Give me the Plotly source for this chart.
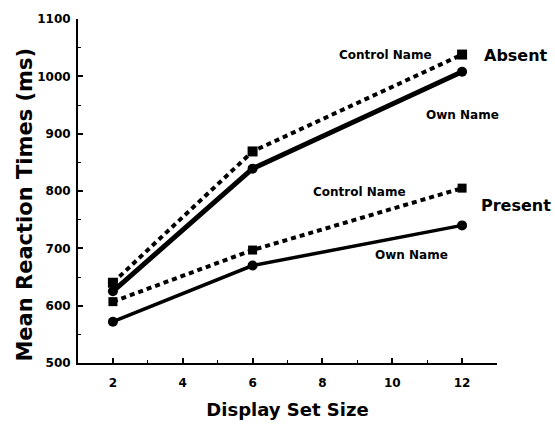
import plotly.graph_objects as go

set_size = [2, 6, 12]
absent_control = [640, 869, 1038]
absent_own = [625, 839, 1008]
present_control = [607, 697, 805]
present_own = [572, 670, 740]

y_ticks = [500, 600, 700, 800, 900, 1000, 1100]
x_ticks = [2, 4, 6, 8, 10, 12]

FONT = "DejaVu Sans"

fig = go.Figure()

def add(y, dashed, symbol, width, msize):
    fig.add_trace(go.Scatter(
        x=set_size, y=y, mode="lines+markers",
        line=dict(color="black", width=width, dash="5px,4px" if dashed else "solid"),
        marker=dict(symbol=symbol, size=msize, color="black"),
        showlegend=False, cliponaxis=False,
    ))

add(absent_control, True, "square", 4, 10)
add(absent_own, False, "circle", 5, 10)
add(present_control, True, "square", 4, 9)
add(present_own, False, "circle", 3.5, 10)

# inner labels (data coordinates)
notes = [
    ("Control Name", 9.8, 1038),
    ("Own Name", 12.0, 932),
    ("Control Name", 9.05, 799),
    ("Own Name", 10.55, 688),
]
for text, x, y in notes:
    fig.add_annotation(x=x, y=y, text="<b>%s</b>" % text, showarrow=False,
                       font=dict(family=FONT, size=12, color="black"))

# group labels to the right of the plot area
for text, y in [("Absent", 1037), ("Present", 775)]:
    fig.add_annotation(x=1.045, xref="paper", xanchor="center", y=y, yref="y",
                       text="<b>%s</b>" % text, showarrow=False,
                       font=dict(family=FONT, size=16, color="black"))

# y-axis title (placed slightly below the axis centre, as in the original)
fig.add_annotation(x=-0.127, xref="paper", xanchor="center", y=0.46, yref="paper",
                   yanchor="middle", textangle=-90, showarrow=False,
                   text="<b>Mean Reaction Times (ms)</b>",
                   font=dict(family=FONT, size=21, color="black"))

fig.update_layout(
    width=555, height=429,
    margin=dict(l=78, r=58, t=18, b=60),
    paper_bgcolor="white", plot_bgcolor="white",
    font=dict(family=FONT, color="black"),
    hovermode=False,
)
fig.update_xaxes(
    range=[1, 13], tickvals=x_ticks, ticktext=[str(v) for v in x_ticks],
    showgrid=False, zeroline=False,
    showline=True, linecolor="black", linewidth=2,
    ticks="inside", ticklen=5, tickwidth=1.5, tickcolor="black",
    minor=dict(ticks="inside", ticklen=3, dtick=1, tick0=1, tickcolor="black", tickwidth=1),
    tickfont=dict(family=FONT, size=12, weight="bold"),
    ticklabelstandoff=8,
    title=dict(text="<b>Display Set Size</b>", font=dict(family=FONT, size=18), standoff=14),
)
fig.update_yaxes(
    range=[500, 1100], tickvals=y_ticks, ticktext=[str(v) for v in y_ticks],
    showgrid=False, zeroline=False,
    showline=True, linecolor="black", linewidth=2,
    ticks="inside", ticklen=5, tickwidth=1.5, tickcolor="black",
    minor=dict(ticks="inside", ticklen=3, dtick=50, tickcolor="black", tickwidth=1),
    tickfont=dict(family=FONT, size=12, weight="bold"),
    ticklabelstandoff=3,
)

# remove the browser's default page margin so the figure fills the window exactly
fig.write_html("out.html",
               config={"displayModeBar": False},
               post_script="document.body.style.margin='0px';document.body.style.overflow='hidden';")
